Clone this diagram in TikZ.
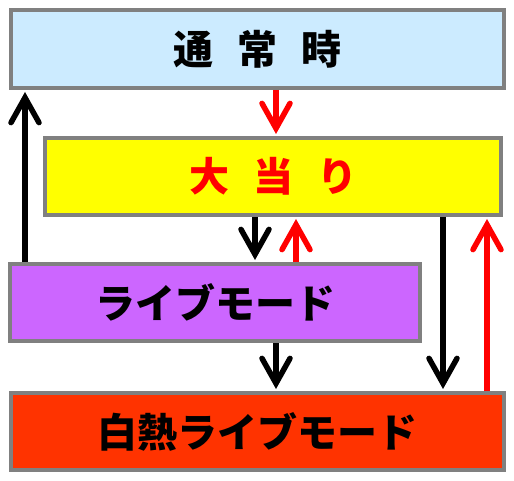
\documentclass[tikz,border=0pt]{standalone}
\usepackage{fontspec}
\usetikzlibrary{arrows.meta}
\newfontfamily\cjk{Noto Sans CJK JP}
\definecolor{bluefill}{HTML}{CCEBFF}
\definecolor{yellowfill}{HTML}{FFFF00}
\definecolor{purplefill}{HTML}{CC66FF}
\definecolor{redfill}{HTML}{FF3300}
\definecolor{bordergray}{HTML}{808080}
\definecolor{arrowred}{HTML}{FF0000}
\tikzset{
  box/.style={draw=bordergray, line width=4pt, inner sep=0pt,
    font=\cjk\bfseries\fontsize{40}{40}\selectfont},
  conn/.style={line width=5.5pt, shorten >=2pt,
    -{Straight Barb[length=25pt, width=28pt, line cap=round, line join=miter]}},
  blk/.style={conn, black},
  rd/.style={conn, arrowred},
}
\begin{document}
\begin{tikzpicture}[x=1pt, y=-1pt]
\useasboundingbox (0,0) rectangle (514,481);
\node[box, fill=bluefill, minimum width=493pt, minimum height=78pt] (normal) at (257.5,49) {通\hspace{0.6em}常\hspace{0.6em}時};
\node[box, fill=yellowfill, text=arrowred, minimum width=456pt, minimum height=77pt] (hit) at (273,176.5) {大\hspace{0.6em}当\hspace{0.6em}り};
\node[box, fill=purplefill, minimum width=410pt, minimum height=77pt] (live) at (215,302.5) {ライブモード};
\node[box, fill=redfill, minimum width=493pt, minimum height=77pt] (hot) at (257.5,431.5) {白熱ライブモード};
% arrows
\draw[blk] (live.north -| 25,0) -- (normal.south -| 25,0);
\draw[rd] (normal.south -| 276,0) -- (hit.north -| 276,0);
\draw[blk] (hit.south -| 255,0) -- (live.north -| 255,0);
\draw[rd] (live.north -| 296,0) -- (hit.south -| 296,0);
\draw[blk] (live.south -| 276,0) -- (hot.north -| 276,0);
\draw[blk] (hit.south -| 443,0) -- (hot.north -| 443,0);
\draw[rd] (hot.north -| 487,0) -- (hit.south -| 487,0);
\end{tikzpicture}
\end{document}
